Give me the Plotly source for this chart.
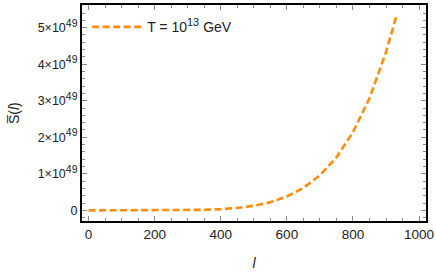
import plotly.graph_objects as go

# data (S values in units of 1e49)
l_vals = [0, 50, 100, 150, 200, 250, 300, 350, 400, 450, 500, 550, 600, 650, 700, 750, 800, 850, 900, 931]
s_vals = [0.0, 0.0, 0.0, 0.0001, 0.0005, 0.002, 0.006, 0.015, 0.034, 0.068, 0.127, 0.226, 0.381, 0.615, 0.96, 1.45, 2.14, 3.07, 4.33, 5.31]
series_name = "T = 10<sup><span style='font-size:11px'>13</span></sup> GeV"
x_ticks = [0, 200, 400, 600, 800, 1000]
y_ticks = [0, 1, 2, 3, 4, 5]
y_ticktext = ["0"] + [f"{v}×10<sup><span style='font-size:10.5px'>49</span></sup>" for v in y_ticks[1:]]

orange = "#FF8C0A"
font_fam = "Liberation Sans, Arial, sans-serif"

fig = go.Figure()
fig.add_trace(go.Scatter(
    x=l_vals, y=s_vals, mode="lines", name=series_name,
    line=dict(color=orange, width=2.6, dash="7px,3.5px"),
))

axis_common = dict(
    showgrid=False, zeroline=False, showline=True, linecolor="black", linewidth=2,
    mirror="ticks", ticks="inside", tickcolor="#888888", tickwidth=1, ticklen=5,
    automargin=False,
)

fig.update_layout(
    width=436, height=273,
    margin=dict(l=82, r=10, t=5, b=52),
    paper_bgcolor="white", plot_bgcolor="white",
    font=dict(family=font_fam, size=13, color="#222222"),
    showlegend=True,
    legend=dict(x=0.015, y=0.897, xanchor="left", yanchor="middle", itemwidth=50,
                bgcolor="rgba(0,0,0,0)", font=dict(size=14)),
    xaxis=dict(**axis_common, range=[-20, 1021], tickvals=x_ticks,
               tickfont=dict(family=font_fam, size=13.5, color="#222222"),
               minor=dict(ticks="inside", ticklen=3, tickcolor="#888888", dtick=50),
               title=dict(text="<i>l</i>", standoff=17, font=dict(size=14))),
    yaxis=dict(**axis_common, range=[-0.29, 5.62], tickvals=y_ticks, ticktext=y_ticktext,
               tickfont=dict(family=font_fam, size=12.5, color="#222222"),
               minor=dict(ticks="inside", ticklen=3, tickcolor="#888888", dtick=0.2)),
    annotations=[dict(text="S̅(<i>l</i>)", xref="paper", yref="paper",
                      x=-0.197, y=0.5, xanchor="center", yanchor="middle",
                      textangle=-90, showarrow=False, font=dict(size=14))],
)

fig.write_html("out.html", config={"displayModeBar": False},
               post_script="document.body.style.margin='0';document.body.style.overflow='hidden';")
